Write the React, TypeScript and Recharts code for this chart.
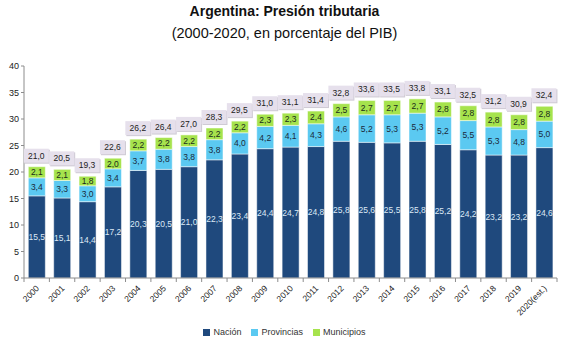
import React from 'react';
import { BarChart, Bar, XAxis, YAxis, LabelList } from 'recharts';

const years = ['2000', '2001', '2002', '2003', '2004', '2005', '2006', '2007', '2008', '2009', '2010', '2011', '2012', '2013', '2014', '2015', '2016', '2017', '2018', '2019', '2020(est.)'];
const nacion = [15.5, 15.1, 14.4, 17.2, 20.3, 20.5, 21.0, 22.3, 23.4, 24.4, 24.7, 24.8, 25.8, 25.6, 25.5, 25.8, 25.2, 24.2, 23.2, 23.2, 24.6];
const provincias = [3.4, 3.3, 3.0, 3.4, 3.7, 3.8, 3.8, 3.8, 4.0, 4.2, 4.1, 4.3, 4.6, 5.2, 5.3, 5.3, 5.2, 5.5, 5.3, 4.8, 5.0];
const municipios = [2.1, 2.1, 1.8, 2.0, 2.2, 2.2, 2.2, 2.2, 2.2, 2.3, 2.3, 2.4, 2.5, 2.7, 2.7, 2.7, 2.8, 2.8, 2.8, 2.8, 2.8];
const totales = [21.0, 20.5, 19.3, 22.6, 26.2, 26.4, 27.0, 28.3, 29.5, 31.0, 31.1, 31.4, 32.8, 33.6, 33.5, 33.8, 33.1, 32.5, 31.2, 30.9, 32.4];
const yTicks = [0, 5, 10, 15, 20, 25, 30, 35, 40];

const data = years.map((y, i) => ({
  year: y,
  nacion: nacion[i],
  provincias: provincias[i],
  municipios: municipios[i],
  total: totales[i],
}));

const FONT = "'Liberation Sans', Arial, sans-serif";
const C_NAC = '#1F497D';
const C_PROV = '#5BC9F1';
const C_MUN = '#A6E34D';
const AXIS = '#8C8C8C';
const BAND = 533 / years.length;

const fmt = (v: any) => Number(v).toFixed(1).replace('.', ',');

const segLabel = (color: string) => (props: any) => {
  const { x, y, width, height, value } = props;
  return (
    <text x={x + width / 2} y={y + height / 2 + 3} textAnchor="middle" fontSize={8.5} fontFamily={FONT} fill={color}>
      {fmt(value)}
    </text>
  );
};

const TotalLabel = (props: any) => {
  const { x, y, width, value } = props;
  const cx = x + width / 2;
  const cy = y - 11;
  return (
    <g>
      <rect x={cx - 12} y={cy - 6} width={25} height={14} fill="#CFCAD4" />
      <rect x={cx - 13} y={cy - 7} width={25} height={14} fill="#E6E0EC" />
      <text x={cx - 0.5} y={cy + 3} textAnchor="middle" fontSize={8.5} fontFamily={FONT} fill="#222">
        {fmt(value)}
      </text>
    </g>
  );
};

const XTick = (props: any) => {
  const { x, y, payload, index } = props;
  const last = index === years.length - 1;
  return (
    <g>
      <line x1={x - BAND / 2} y1={y - 8} x2={x - BAND / 2} y2={y - 4} stroke={AXIS} />
      {last && <line x1={x + BAND / 2} y1={y - 8} x2={x + BAND / 2} y2={y - 4} stroke={AXIS} />}
      <text x={x + 3} y={y + 3} transform={`rotate(-45 ${x + 3} ${y + 3})`} textAnchor="end" fontSize={8.5} fontFamily={FONT} fill="#222">
        {payload.value}
      </text>
    </g>
  );
};

export default function App() {
  return (
    <div style={{ position: 'absolute', left: 0, top: 0, width: 569, height: 342, background: '#fff', fontFamily: FONT }}>
      <div style={{ position: 'absolute', top: 3, width: 569, textAlign: 'center', fontSize: 14, fontWeight: 'bold', color: '#111' }}>
        Argentina: Presión tributaria
      </div>
      <div style={{ position: 'absolute', top: 25, width: 569, textAlign: 'center', fontSize: 14.5, color: '#111' }}>
        (2000-2020, en porcentaje del PIB)
      </div>
      <div style={{ position: 'absolute', left: 0, top: 0 }}>
        <BarChart width={569} height={342} data={data} margin={{ top: 66, right: 12, bottom: 0, left: 0 }} barCategoryGap="17%">
          <XAxis dataKey="year" interval={0} tickLine={false} axisLine={{ stroke: AXIS }} tick={<XTick />} height={64} />
          <YAxis
            domain={[0, 40]}
            ticks={yTicks}
            width={24}
            axisLine={{ stroke: AXIS }}
            tickLine={{ stroke: AXIS }}
            tickSize={3}
            tick={{ fontSize: 9, fill: '#222', fontFamily: FONT }}
          />
          <Bar dataKey="nacion" stackId="a" fill={C_NAC} stroke="#fff" strokeWidth={0.5} isAnimationActive={false}>
            <LabelList dataKey="nacion" content={segLabel('#DCE8F5')} />
          </Bar>
          <Bar dataKey="provincias" stackId="a" fill={C_PROV} stroke="#fff" strokeWidth={0.5} isAnimationActive={false}>
            <LabelList dataKey="provincias" content={segLabel('#1A2A3A')} />
          </Bar>
          <Bar dataKey="municipios" stackId="a" fill={C_MUN} stroke="#fff" strokeWidth={0.5} isAnimationActive={false}>
            <LabelList dataKey="municipios" content={segLabel('#1A2A1A')} />
            <LabelList dataKey="total" content={<TotalLabel />} />
          </Bar>
        </BarChart>
      </div>
      <div style={{ position: 'absolute', top: 327, width: 569, display: 'flex', justifyContent: 'center', gap: 10, fontSize: 9, color: '#333' }}>
        {[['Nación', C_NAC], ['Provincias', C_PROV], ['Municipios', C_MUN]].map(([n, c]) => (
          <div key={n} style={{ display: 'flex', alignItems: 'center', gap: 3 }}>
            <span style={{ width: 7, height: 7, background: c, display: 'inline-block' }} />
            <span>{n}</span>
          </div>
        ))}
      </div>
    </div>
  );
}
